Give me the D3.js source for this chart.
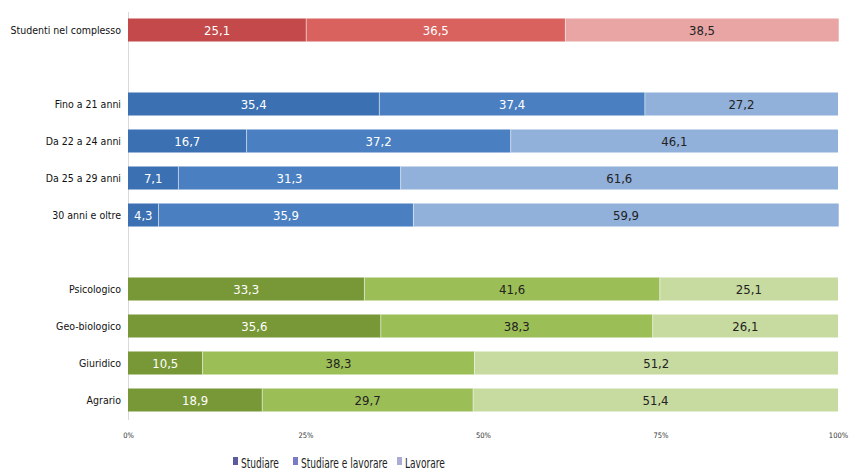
<!DOCTYPE html>
<html><head><meta charset="utf-8">
<script src="https://cdn.jsdelivr.net/npm/d3@7/dist/d3.min.js"></script>
<style>body{margin:0;background:#fff} text{font-stretch:condensed}</style></head>
<body><svg id="c" width="855" height="473"></svg>
<script>
const categories = ["Studenti nel complesso","","Fino a 21 anni","Da 22 a 24 anni","Da 25 a 29 anni","30 anni e oltre"," ","Psicologico","Geo-biologico","Giuridico","Agrario"];
const groups = ["red","","blue","blue","blue","blue","","green","green","green","green"];
const studiare = [25.1,null,35.4,16.7,7.1,4.3,null,33.3,35.6,10.5,18.9];
const studiareLavorare = [36.5,null,37.4,37.2,31.3,35.9,null,41.6,38.3,38.3,29.7];
const lavorare = [38.5,null,27.2,46.1,61.6,59.9,null,25.1,26.1,51.2,51.4];
const series = ["Studiare","Studiare e lavorare","Lavorare"];
const ticks = [0,25,50,75,100];
const tickLabels = ["0%","25%","50%","75%","100%"];

const palette = {
  red:["#c4494a","#d9625f","#e8a5a4"],
  blue:["#3b70b3","#4a7fc1","#91b0da"],
  green:["#789838","#9cbe56","#c7daa0"]
};
const textCol = {
  red:["#fff","#fff","#222"],
  blue:["#fff","#fff","#222"],
  green:["#fff","#222","#222"]
};
const legendCols = ["#5b5b9d","#7b7bc3","#ababd6"];

const svg = d3.select("#c");
const font = "'DejaVu Sans Condensed','Liberation Sans Narrow','DejaVu Sans',sans-serif";
const x = d3.scaleLinear().domain([0,100]).range([128,838]);
const y = d3.scaleBand().domain(categories).range([11.5,418.5]).paddingInner(0.378).paddingOuter(0.189);

svg.append("line").attr("x1",128.5).attr("x2",128.5).attr("y1",12).attr("y2",420).attr("stroke","#d9d9d9");

const rows = categories.map((c,i)=>({c,i,vals:[studiare[i],studiareLavorare[i],lavorare[i]]})).filter(r=>r.vals[0]!=null);
rows.forEach(r=>{
  let acc=0;
  const g = groups[r.i];
  r.vals.forEach((v,k)=>{
    const x0=x(acc), x1=x(acc+v);
    svg.append("rect").attr("x",x0).attr("y",y(r.c)).attr("width",x1-x0).attr("height",y.bandwidth()).attr("fill",palette[g][k]);
    if(k>0) svg.append("line").attr("x1",x0).attr("x2",x0).attr("y1",y(r.c)).attr("y2",y(r.c)+y.bandwidth()).attr("stroke","rgba(255,255,255,0.5)").attr("stroke-width",1);
    svg.append("text").attr("x",(x0+x1)/2).attr("y",y(r.c)+y.bandwidth()/2).attr("dy","0.36em")
      .attr("text-anchor","middle").attr("font-family",font).attr("font-size",13).attr("fill",textCol[g][k])
      .text(String(v.toFixed(1)).replace(".",","));
    acc+=v;
  });
  svg.append("text").attr("x",121).attr("y",y(r.c)+y.bandwidth()/2).attr("dy","0.36em")
    .attr("text-anchor","end").attr("font-family",font).attr("font-size",10.5).attr("fill","#111").text(r.c);
});

const ax = svg.append("g").attr("transform","translate(0,430)")
  .call(d3.axisBottom(x).tickValues(ticks).tickFormat((d,i)=>tickLabels[i]).tickSize(0));
ax.select(".domain").remove();
ax.selectAll("text").attr("font-family",font).attr("font-size",7.5).attr("fill","#333");

const lx=[233,293,397];
series.forEach((s,i)=>{
  svg.append("rect").attr("x",lx[i]).attr("y",457).attr("width",5).attr("height",8).attr("fill",legendCols[i]);
  svg.append("text").attr("transform",`translate(${lx[i]+8},467.5) scale(0.72,1)`).attr("font-family",font).attr("font-size",14).attr("fill","#222").text(s);
});
</script></body></html>
